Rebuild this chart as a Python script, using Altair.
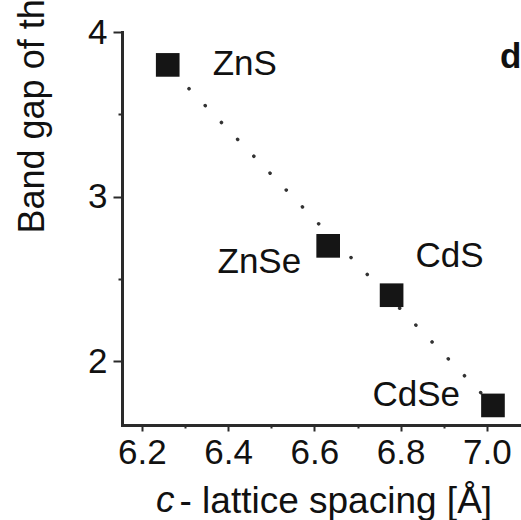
import altair as alt
import pandas as pd

# ---- data ----
compounds = ["ZnS", "ZnSe", "CdS", "CdSe"]
lattice_c = [6.26, 6.632, 6.779, 7.014]
band_gap = [3.80, 2.70, 2.40, 1.73]

fit_c = [6.26, 7.014]
fit_gap = [3.79, 1.73]

x_major = [6.2, 6.4, 6.6, 6.8, 7.0]
x_minor = [6.3, 6.5, 6.7, 6.9]
y_major = [2, 3, 4]
y_minor = [2.5, 3.5]

x_domain = [6.154, 7.079]
y_domain = [1.611, 4.0]

panel_letter = ["d"]
x_title_var = ["c"]

FONT = "Liberation Sans"
INK = "#111111"
AXC = "#2a2a2a"

df = pd.DataFrame({"compound": compounds, "c": lattice_c, "gap": band_gap})
df_fit = pd.DataFrame({"c": fit_c, "gap": fit_gap})

x_test = "abs(datum.value*10 - 2*round(datum.value*5)) < 0.01"
y_test = "abs(datum.value - round(datum.value)) < 0.01"

x_axis = alt.Axis(
    values=sorted(x_major + x_minor),
    labelExpr=f"{x_test} ? format(datum.value, '.1f') : ''",
    tickSize={"condition": {"test": x_test, "value": 6}, "value": 3},
    tickWidth=2, tickColor=AXC,
    domainColor=AXC, domainWidth=3, domainCap="square",
    labelFont=FONT, labelFontSize=35, labelColor=INK, labelPadding=4,
    labelFlush=False, labelOverlap=False,
    grid=False,
    title="- lattice spacing [Å]",
    titleFont=FONT, titleFontSize=37, titleFontWeight="normal", titleColor=INK,
    titleX=57, titleY=87, titleAlign="left", titleBaseline="alphabetic",
)

y_axis = alt.Axis(
    values=sorted(y_major + y_minor),
    labelExpr=f"{y_test} ? format(datum.value, 'd') : ''",
    tickSize={"condition": {"test": y_test, "value": 9}, "value": 4},
    tickWidth=2, tickColor=AXC,
    domainColor=AXC, domainWidth=3, domainCap="square",
    labelFont=FONT, labelFontSize=35, labelColor=INK, labelPadding=6,
    labelFlush=False, labelOverlap=False,
    grid=False,
    title="Band gap of the bulk [eV]",
    titleFont=FONT, titleFontSize=36, titleFontWeight="normal", titleColor=INK,
    titleAngle=270, titleX=-79, titleY=201, titleAlign="left", titleBaseline="alphabetic",
)

x_enc = alt.X("c:Q", scale=alt.Scale(domain=x_domain, nice=False, zero=False), axis=x_axis)
y_enc = alt.Y("gap:Q", scale=alt.Scale(domain=y_domain, nice=False, zero=False), axis=y_axis)

fit = alt.Chart(df_fit).mark_line(
    strokeDash=[0.1, 23.3], strokeDashOffset=16.1, strokeCap="round",
    strokeWidth=3.5, color="#333333",
).encode(x=x_enc, y=y_enc)

points = alt.Chart(df).mark_square(size=560, color="#151515", opacity=1, filled=True).encode(
    x=x_enc, y=y_enc
)

def label(name, dx, dy, align):
    return alt.Chart(df).transform_filter(
        alt.datum.compound == name
    ).mark_text(
        font=FONT, fontSize=35, color=INK, align=align, baseline="alphabetic", dx=dx, dy=dy
    ).encode(x=x_enc, y=y_enc, text="compound:N")

labels = [
    label("ZnS", 45, 10, "left"),
    label("ZnSe", -27, 27, "right"),
    label("CdS", 24, -28, "left"),
    label("CdSe", -33, 1, "right"),
]

letter = alt.Chart(pd.DataFrame({"t": panel_letter})).mark_text(
    font=FONT, fontSize=35, fontWeight="bold", color=INK, align="left", baseline="alphabetic"
).encode(text="t:N", x=alt.value(378), y=alt.value(36))

cvar = alt.Chart(pd.DataFrame({"t": x_title_var})).mark_text(
    font=FONT, fontSize=37, fontStyle="italic", color=INK, align="left", baseline="alphabetic"
).encode(text="t:N", x=alt.value(34), y=alt.value(480))

chart = alt.layer(fit, points, *labels, letter, cvar).properties(
    width=399, height=393,
    padding={"left": 122, "top": 32, "right": 0, "bottom": 95},
    autosize="none",
    background="white",
).configure_view(stroke=None)

chart.save("out.html", embed_options={"renderer": "svg", "actions": False})
